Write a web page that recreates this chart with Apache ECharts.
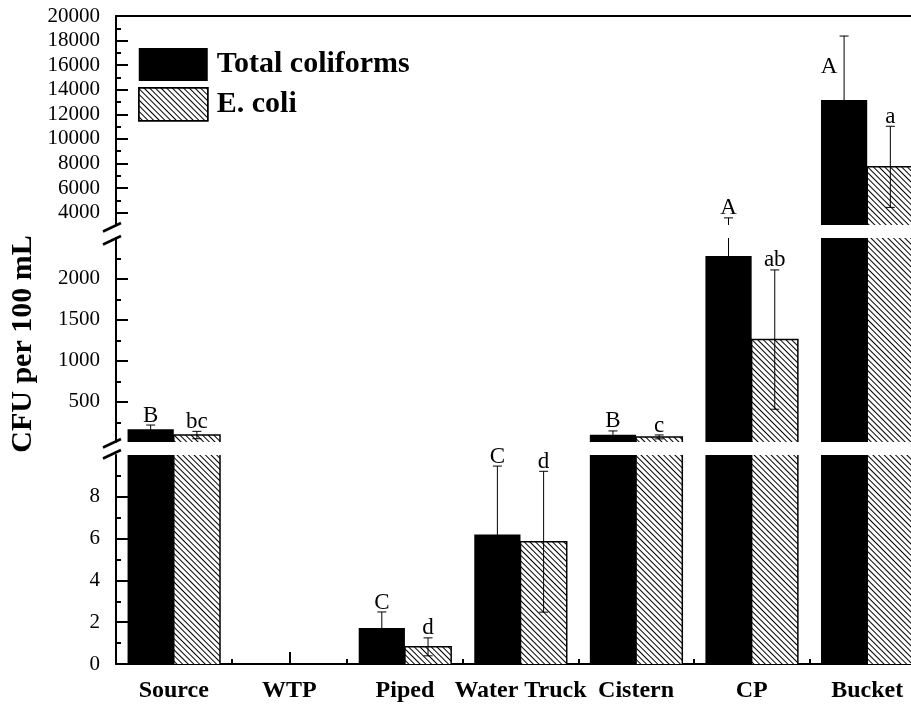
<!DOCTYPE html>
<html><head><meta charset="utf-8">
<script src="https://cdn.jsdelivr.net/npm/echarts@6/dist/echarts.min.js"></script>
<style>html,body{margin:0;padding:0;background:#fff}#c{width:911px;height:704px}</style>
</head><body><div id="c"></div>
<script>
// ---------------- data ----------------
const categories = ['Source', 'WTP', 'Piped', 'Water Truck', 'Cistern', 'CP', 'Bucket'];
const totalColiforms = [165, 0, 1.72, 6.2, 100, 2280, 13160];
const totalColiformsErr = [52, 0, 0.77, 3.27, 45, 1300, 5210];
const eColi = [95, 0, 0.82, 5.85, 72, 1260, 7730];
const eColiErr = [45, 0, 0.43, 3.37, 24, 850, 3300];
const totalColiformsLetters = ['B', '', 'C', 'C', 'B', 'A', 'A'];
const eColiLetters = ['bc', '', 'd', 'd', 'c', 'ab', 'a'];
const seriesNames = ['Total coliforms', 'E. coli'];
const yTitle = 'CFU per 100 mL';

// broken y-axis segments (value ranges) and tick values
const topRange = [3000, 20000];
const topTicks = [4000, 6000, 8000, 10000, 12000, 14000, 16000, 18000, 20000];
const topMinorTicks = [5000, 7000, 9000, 11000, 13000, 15000, 17000, 19000];
const midRange = [10, 2500];
const midTicks = [500, 1000, 1500, 2000];
const midMinorTicks = [250, 750, 1250, 1750, 2250];
const lowRange = [0, 10];
const lowTicks = [0, 2, 4, 6, 8];
const lowMinorTicks = [1, 3, 5, 7, 9];

// ---------------- layout / style ----------------
const FONT = '"Liberation Serif", "Times New Roman", serif';
const GRID_LEFT = 116, GRID_WIDTH = 809;
const grids = [
  { left: GRID_LEFT, width: GRID_WIDTH, top: 16, height: 209, outerBoundsMode: 'none', containLabel: false },
  { left: GRID_LEFT, width: GRID_WIDTH, top: 238, height: 204, outerBoundsMode: 'none', containLabel: false },
  { left: GRID_LEFT, width: GRID_WIDTH, top: 455, height: 209, outerBoundsMode: 'none', containLabel: false }
];
const segs = [
  { range: topRange, ticks: topTicks, minor: topMinorTicks },
  { range: midRange, ticks: midTicks, minor: midMinorTicks },
  { range: lowRange, ticks: lowTicks, minor: lowMinorTicks }
];
const HALF = 0.2; // bar width as fraction of band
// letter label tweak (Bucket total coliforms letter sits beside its error bar)
const letterNudge = { '0-6': [-15, 40] };

const hatch = {
  symbol: 'rect', symbolSize: 1, color: '#000',
  dashArrayX: [1, 0], dashArrayY: [1, 3], rotation: Math.PI / 4
};

const chart = echarts.init(document.getElementById('c'), null, { renderer: 'canvas' });

const xAxes = [
  { gridIndex: 0, type: 'category', data: categories, position: 'top',
    axisLine: { show: true, lineStyle: { color: '#000', width: 2 } },
    axisTick: { show: false }, axisLabel: { show: false } },
  { gridIndex: 1, type: 'category', data: categories, show: false },
  { gridIndex: 2, type: 'category', data: categories, position: 'bottom',
    axisLine: { show: true, lineStyle: { color: '#000', width: 2 } },
    axisTick: { show: true, inside: true, alignWithLabel: true, interval: 0, length: 12, lineStyle: { color: '#000', width: 2 } },
    axisLabel: { show: true, interval: 0, hideOverlap: false, color: '#000', fontFamily: FONT, fontWeight: 'bold', fontSize: 24, margin: 15 } },
  { gridIndex: 2, type: 'category', data: categories, position: 'bottom',
    axisLine: { show: false },
    axisTick: { show: true, inside: true, alignWithLabel: false, interval: 0, length: 5, lineStyle: { color: '#000', width: 2 } },
    axisLabel: { show: false } }
];

const yAxes = [];
segs.forEach((s, g) => {
  yAxes.push({
    gridIndex: g, type: 'value', min: s.range[0], max: s.range[1], position: 'left',
    axisLine: { show: true, lineStyle: { color: '#000', width: 2 } },
    splitLine: { show: false },
    axisTick: { show: true, inside: true, length: 12, customValues: s.ticks, lineStyle: { color: '#000', width: 2 } },
    axisLabel: { show: true, customValues: s.ticks, formatter: v => String(v), color: '#000', fontFamily: FONT, fontSize: 21, margin: 16 }
  });
  yAxes.push({
    gridIndex: g, type: 'value', min: s.range[0], max: s.range[1], position: 'left',
    axisLine: { show: false }, splitLine: { show: false },
    axisTick: { show: true, inside: true, length: 5, customValues: s.minor, lineStyle: { color: '#000', width: 2 } },
    axisLabel: { show: false }
  });
});

function makeRender(seg) {
  const mn = seg.range[0], mx = seg.range[1];
  return function (params, api) {
    const i = params.dataIndex;
    const cs = params.coordSys;
    const yTop = cs.y, yBot = cs.y + cs.height;
    const clampY = y => Math.max(yTop, Math.min(yBot, y));
    const inSeg = v => v >= mn && v <= mx;
    const band = api.size([1, 0])[0];
    const cx = api.coord([i, mn])[0];
    const children = [];
    const groups = [
      [totalColiforms, totalColiformsErr, totalColiformsLetters, -HALF],
      [eColi, eColiErr, eColiLetters, HALF]
    ];
    groups.forEach(function (gr, s) {
      const v = gr[0][i], e = gr[1][i], letter = gr[2][i];
      if (!v) return;
      const x = cx + gr[3] * band;
      // outline of hatched bar within this segment
      if (s === 1 && v > mn) {
        const xl = x - HALF * band, xr = x + HALF * band;
        const y0 = clampY(api.coord([i, Math.max(mn, 0)])[1]);
        const y1 = clampY(api.coord([i, Math.min(v, mx)])[1]);
        const pts = v <= mx ? [[xl, y0], [xl, y1], [xr, y1], [xr, y0]] : null;
        const ls = { stroke: '#000', lineWidth: 1.5, fill: null };
        if (pts) children.push({ type: 'polyline', shape: { points: pts }, style: ls });
        else {
          children.push({ type: 'line', shape: { x1: xl, y1: y0, x2: xl, y2: y1 }, style: ls });
          children.push({ type: 'line', shape: { x1: xr, y1: y0, x2: xr, y2: y1 }, style: ls });
        }
      }
      // error bar
      const lo = v - e, hi = v + e;
      const st = { stroke: '#000', lineWidth: 1 };
      if (hi > mn && lo < mx) {
        const ya = clampY(api.coord([i, lo])[1]);
        const yb = clampY(api.coord([i, hi])[1]);
        children.push({ type: 'line', shape: { x1: x, y1: ya, x2: x, y2: yb }, style: st });
      }
      const capW = 4.5;
      [lo, hi].forEach(function (cv) {
        if (inSeg(cv)) {
          const yc = api.coord([i, cv])[1];
          children.push({ type: 'line', shape: { x1: x - capW, y1: yc, x2: x + capW, y2: yc }, style: st });
        }
      });
      // letter
      if (letter && inSeg(hi)) {
        const nd = letterNudge[s + '-' + i] || [0, 0];
        const yh = api.coord([i, hi])[1];
        children.push({ type: 'text', x: x + nd[0], y: yh + 2 + nd[1],
          style: { text: letter, fill: '#000', font: '23px ' + FONT, align: 'center', verticalAlign: 'bottom' } });
      }
    });
    return { type: 'group', children: children };
  };
}

const series = [];
segs.forEach((s, g) => {
  const xi = g, yi = g * 2;
  series.push({
    type: 'bar', name: seriesNames[0], xAxisIndex: xi, yAxisIndex: yi, data: totalColiforms,
    barWidth: '40%', barGap: '0%', clip: true, itemStyle: { color: '#000' }, silent: true
  });
  series.push({
    type: 'bar', name: seriesNames[1], xAxisIndex: xi, yAxisIndex: yi, data: eColi,
    barWidth: '40%', barGap: '0%', clip: true, itemStyle: { color: '#fff', decal: hatch }, silent: true
  });
  series.push({
    type: 'custom', xAxisIndex: xi, yAxisIndex: yi, z: 5, silent: true,
    data: categories.map((c, i) => [i, totalColiforms[i]]), encode: { x: 0, y: 1 },
    renderItem: makeRender(s)
  });
});

// axis break marks (decoration) and y-axis title
const graphics = [];
function slash(y) {
  return { type: 'line', shape: { x1: GRID_LEFT - 13, y1: y + 6.5, x2: GRID_LEFT + 5, y2: y - 2 },
    style: { stroke: '#000', lineWidth: 2.5 }, z: 100 };
}
graphics.push(slash(grids[0].top + grids[0].height));
graphics.push(slash(grids[1].top));
graphics.push(slash(grids[1].top + grids[1].height - 1));
graphics.push(slash(grids[2].top - 3));
graphics.push({
  type: 'text', x: 23, y: 344, rotation: Math.PI / 2, z: 100,
  style: { text: yTitle, fill: '#000', font: 'bold 30px ' + FONT, align: 'center', verticalAlign: 'middle' }
});

chart.setOption({
  animation: false,
  backgroundColor: '#fff',
  grid: grids,
  xAxis: xAxes,
  yAxis: yAxes,
  legend: {
    orient: 'vertical', left: 138, top: 48, padding: 0, itemWidth: 69, itemHeight: 33, itemGap: 6,
    selectedMode: false,
    textStyle: { color: '#000', fontFamily: FONT, fontWeight: 'bold', fontSize: 30, padding: [0, 0, 0, 4] },
    data: [
      { name: seriesNames[0], icon: 'rect', itemStyle: { color: '#000' } },
      { name: seriesNames[1], icon: 'rect', itemStyle: { color: '#fff', borderColor: '#000', borderWidth: 1.5, decal: hatch } }
    ]
  },
  series: series,
  graphic: graphics
});
</script>
</body></html>
